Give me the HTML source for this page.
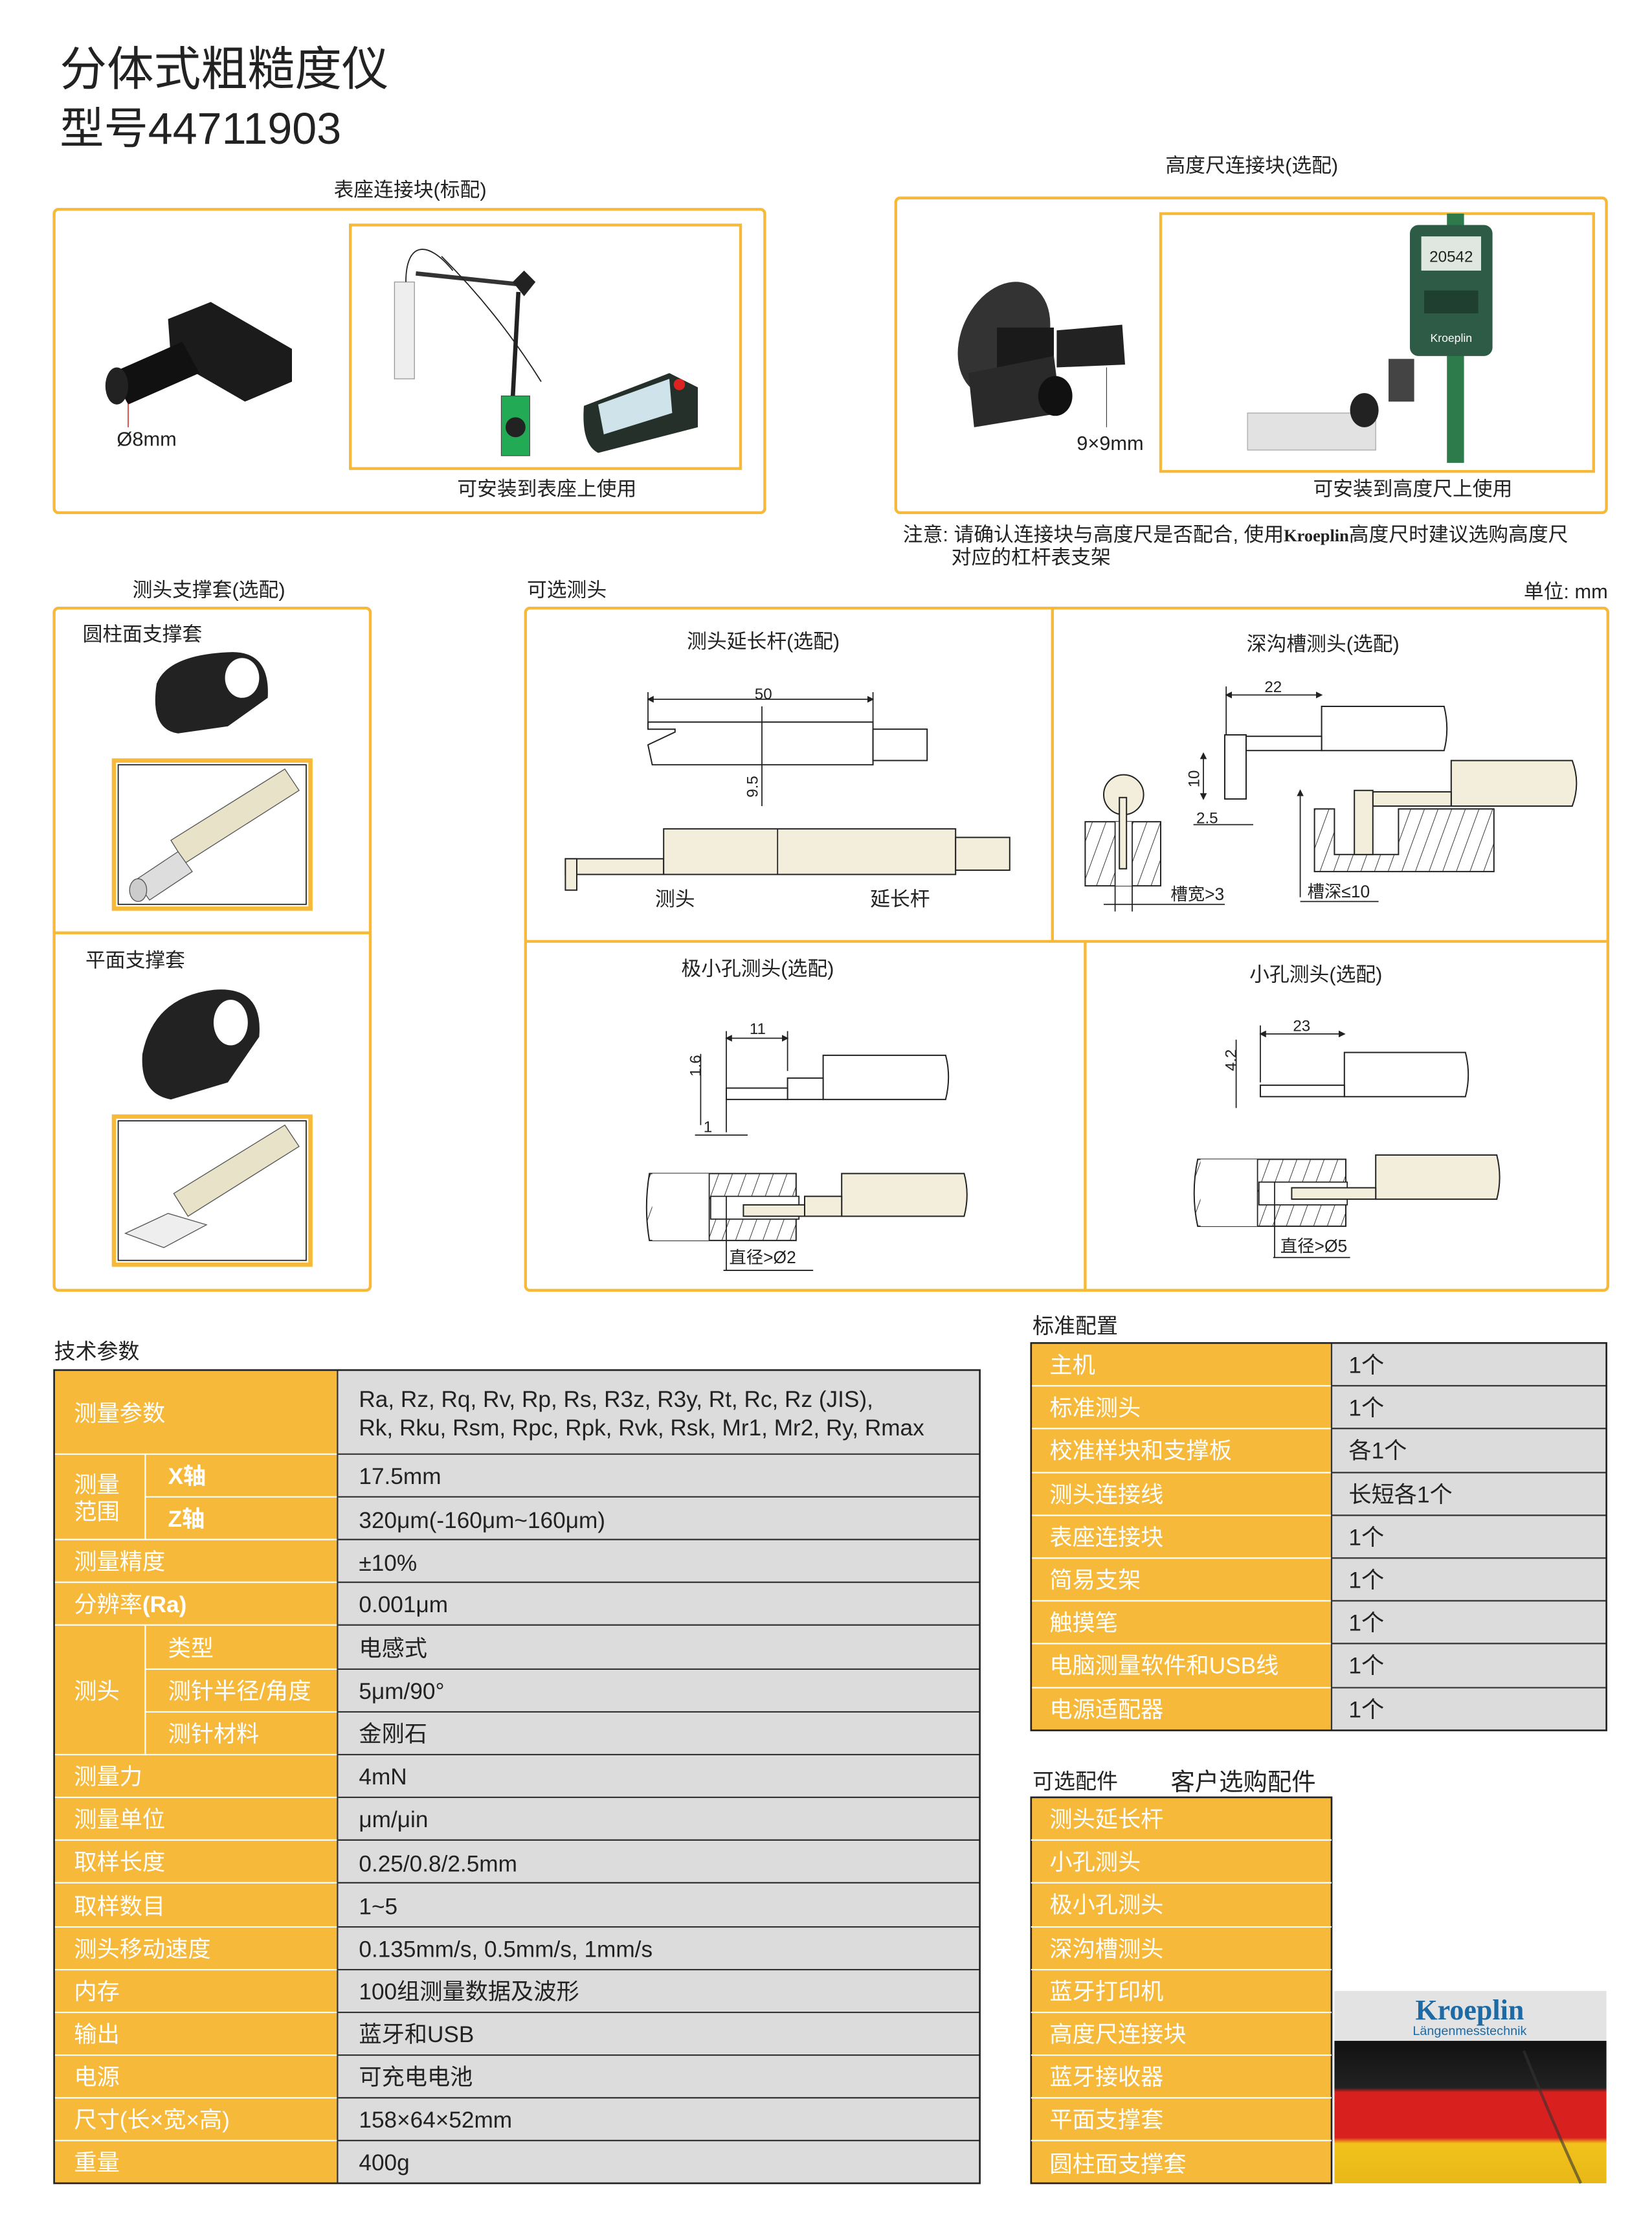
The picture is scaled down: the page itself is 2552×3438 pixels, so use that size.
<!DOCTYPE html>
<html><head><meta charset="utf-8"><style>
html,body{margin:0;padding:0;background:#fff;}
svg{display:block;}
text{font-family:"Liberation Sans","Noto Sans CJK SC",sans-serif;fill:#222;}
.w{fill:#fff;}
.o{fill:none;stroke:#f6b93a;stroke-width:2;}
.ln{stroke:#222;stroke-width:0.8;fill:none;}
.bg{fill:#f3eedb;stroke:#222;stroke-width:0.9;}
.h{stroke:#222;stroke-width:0.6;}
</style></head><body>
<svg width="2552" height="3438" viewBox="0 0 1160 1563" preserveAspectRatio="none" xmlns="http://www.w3.org/2000/svg">
<defs>
<pattern id="hat" width="9" height="9" patternUnits="userSpaceOnUse" patternTransform="rotate(20)">
<rect width="9" height="9" fill="#fff"/><line x1="0" y1="0" x2="0" y2="9" stroke="#222" stroke-width="0.8"/></pattern>
<marker id="ar" markerWidth="6" markerHeight="6" refX="5" refY="3" orient="auto"><path d="M0,0 L6,3 L0,6z" fill="#222"/></marker>
<marker id="al" markerWidth="6" markerHeight="6" refX="1" refY="3" orient="auto"><path d="M6,0 L0,3 L6,6z" fill="#222"/></marker>
<linearGradient id="flag" x1="0" y1="0" x2="0" y2="1"><stop offset="0" stop-color="#111"/><stop offset="0.33" stop-color="#222"/><stop offset="0.36" stop-color="#d8201f"/><stop offset="0.68" stop-color="#d8201f"/><stop offset="0.72" stop-color="#f1c21b"/><stop offset="1" stop-color="#e8b817"/></linearGradient>
</defs>

<!-- Title -->
<text x="42" y="60" font-size="33">分体式粗糙度仪</text>
<text x="42" y="101" font-size="31">型号44711903</text>

<!-- Box 1 -->
<text x="288" y="138" font-size="14" text-anchor="middle">表座连接块(标配)</text>
<rect x="38" y="147" width="499" height="213" rx="3" class="o"/>
<rect x="246" y="158" width="274" height="171" class="o" stroke-width="3"/>
<g>
<polygon points="118,224 148,212 205,245 205,268 172,282 120,252" fill="#1b1b1b"/>
<polygon points="78,262 128,240 140,262 90,284" fill="#111"/>
<ellipse cx="82" cy="271" rx="8" ry="13" fill="#222"/>
<line x1="90" y1="283" x2="90" y2="300" stroke="#c00" stroke-width="0.6"/>
<text x="82" y="313" font-size="14">Ø8mm</text>
</g>
<g>
<rect x="277" y="198" width="14" height="68" fill="#eee" stroke="#999" stroke-width="0.6"/>
<path d="M285,198 C285,170 300,168 318,190" class="ln" stroke-width="1.4"/>
<line x1="292" y1="192" x2="368" y2="200" stroke="#333" stroke-width="3"/>
<path d="M368,190 L376,198 L368,208 L360,198z" fill="#222"/>
<line x1="364" y1="205" x2="360" y2="280" stroke="#222" stroke-width="3"/>
<rect x="352" y="278" width="20" height="42" fill="#2a5" stroke="#444" stroke-width="0.5"/>
<circle cx="362" cy="300" r="7" fill="#222"/>
<path d="M310,180 Q350,220 380,268" class="ln"/>
<path d="M410,285 L470,262 L490,272 L490,300 L420,318 Q408,312 410,285z" fill="#26302a"/>
<path d="M420,284 L470,266 L472,290 L424,305z" fill="#cfe3ea"/>
<circle cx="477" cy="270" r="4" fill="#d22"/>
</g>
<text x="384" y="348" font-size="14" text-anchor="middle">可安装到表座上使用</text>

<!-- Box 2 -->
<text x="879" y="121" font-size="14" text-anchor="middle">高度尺连接块(选配)</text>
<rect x="629" y="139" width="499" height="221" rx="3" class="o"/>
<rect x="815" y="150" width="304" height="181" class="o" stroke-width="3"/>
<g>
<ellipse cx="705" cy="238" rx="30" ry="42" fill="#333" transform="rotate(25 705 238)"/>
<rect x="700" y="230" width="40" height="30" fill="#1a1a1a"/>
<polygon points="742,232 788,228 790,256 742,258" fill="#222"/>
<polygon points="680,262 740,250 745,290 684,300" fill="#2a2a2a"/>
<ellipse cx="741" cy="278" rx="12" ry="14" fill="#111"/>
<line x1="777" y1="258" x2="777" y2="300" stroke="#333" stroke-width="0.5"/>
<text x="756" y="316" font-size="14">9×9mm</text>
</g>
<g>
<rect x="1016" y="150" width="12" height="175" fill="#2d7a4a"/>
<rect x="990" y="158" width="58" height="92" rx="6" fill="#2e5b45"/>
<rect x="998" y="166" width="42" height="24" fill="#dfe7e0"/>
<text x="1019" y="184" font-size="11" text-anchor="middle">20542</text>
<rect x="1000" y="204" width="38" height="16" fill="#1f3f30"/>
<text x="1019" y="240" font-size="8" text-anchor="middle" class="w" style="fill:#fff">Kroeplin</text>
<rect x="876" y="290" width="90" height="26" fill="#e2e2e2" stroke="#aaa" stroke-width="0.6"/>
<ellipse cx="958" cy="288" rx="10" ry="12" fill="#222"/>
<rect x="975" y="252" width="18" height="30" fill="#444"/>
</g>
<text x="992" y="348" font-size="14" text-anchor="middle">可安装到高度尺上使用</text>
<text x="634" y="380" font-size="14">注意: 请确认连接块与高度尺是否配合, 使用<tspan font-family="Liberation Serif" font-weight="bold" font-size="12">Kroeplin</tspan>高度尺时建议选购高度尺</text>
<text x="668" y="396" font-size="14">对应的杠杆表支架</text>

<!-- Section labels -->
<text x="93" y="419" font-size="14">测头支撑套(选配)</text>
<text x="370" y="419" font-size="14">可选测头</text>
<text x="1129" y="420" font-size="14" text-anchor="end">单位: mm</text>

<!-- Left support box -->
<rect x="38" y="427" width="222" height="479" rx="3" class="o"/>
<line x1="38" y1="655" x2="260" y2="655" class="o"/>
<text x="58" y="450" font-size="14">圆柱面支撑套</text>
<g>
<path d="M110,480 Q118,460 160,458 Q190,456 188,490 L160,510 L125,515 Q105,512 110,480z" fill="#222"/>
<ellipse cx="170" cy="476" rx="12" ry="14" fill="#fff"/>
</g>
<rect x="80" y="534" width="138" height="104" fill="none" stroke="#f6b93a" stroke-width="3"/>
<rect x="83" y="537" width="132" height="98" fill="none" stroke="#222" stroke-width="0.8"/>
<polygon points="120,590 200,540 210,555 130,606" fill="#e8e2c8" stroke="#555" stroke-width="0.6"/>
<polygon points="95,618 125,598 135,612 105,632" fill="#ddd" stroke="#555" stroke-width="0.6"/>
<ellipse cx="97" cy="625" rx="6" ry="8" fill="#ccc" stroke="#555" stroke-width="0.6"/>
<text x="60" y="679" font-size="14">平面支撑套</text>
<g>
<path d="M100,740 Q108,700 150,695 Q185,692 182,728 L160,760 L120,772 Q98,768 100,740z" fill="#222"/>
<ellipse cx="162" cy="718" rx="12" ry="16" fill="#fff"/>
</g>
<rect x="80" y="784" width="138" height="104" fill="none" stroke="#f6b93a" stroke-width="3"/>
<rect x="83" y="787" width="132" height="98" fill="none" stroke="#222" stroke-width="0.8"/>
<polygon points="122,838 200,790 210,805 132,854" fill="#e8e2c8" stroke="#555" stroke-width="0.6"/>
<polygon points="88,866 118,852 145,860 115,876" fill="#eee" stroke="#555" stroke-width="0.6"/>

<!-- Right probes box -->
<rect x="369" y="427" width="760" height="479" rx="3" class="o"/>
<line x1="739" y1="427" x2="739" y2="661" class="o"/>
<line x1="369" y1="661" x2="1129" y2="661" class="o"/>
<line x1="762" y1="661" x2="762" y2="906" class="o"/>

<!-- extension rod -->
<text x="536" y="455" font-size="14" text-anchor="middle">测头延长杆(选配)</text>
<text x="536" y="491" font-size="11" text-anchor="middle">50</text>
<line x1="455" y1="491" x2="613" y2="491" class="ln" marker-start="url(#al)" marker-end="url(#ar)"/>
<line x1="455" y1="486" x2="455" y2="507" class="ln"/><line x1="613" y1="486" x2="613" y2="507" class="ln"/>
<path d="M455,507 L613,507 L613,537 L458,537 L455,523 L474,514 L474,512 L455,512z" fill="#fff" stroke="#222" stroke-width="0.9"/>
<rect x="613" y="512" width="38" height="22" fill="#fff" stroke="#222" stroke-width="0.9"/>
<line x1="535" y1="496" x2="535" y2="566" class="ln"/>
<text x="532" y="560" font-size="11" transform="rotate(-90 532 560)">9.5</text>
<rect x="397" y="603" width="69" height="11" class="bg"/>
<rect x="466" y="582" width="205" height="32" class="bg"/>
<line x1="546" y1="582" x2="546" y2="614" class="ln"/>
<rect x="671" y="588" width="38" height="23" class="bg"/>
<rect x="397" y="603" width="8" height="22" class="bg"/>
<text x="474" y="636" font-size="14" text-anchor="middle">测头</text>
<text x="632" y="636" font-size="14" text-anchor="middle">延长杆</text>

<!-- deep groove -->
<text x="929" y="457" font-size="14" text-anchor="middle">深沟槽测头(选配)</text>
<text x="894" y="486" font-size="11" text-anchor="middle">22</text>
<line x1="861" y1="488" x2="928" y2="488" class="ln" marker-start="url(#al)" marker-end="url(#ar)"/>
<line x1="861" y1="482" x2="861" y2="516" class="ln"/>
<path d="M928,496 L1014,496 Q1018,512 1014,527 L928,527z" fill="#fff" stroke="#222" stroke-width="0.9"/>
<rect x="875" y="517" width="53" height="10" fill="#fff" stroke="#222" stroke-width="0.9"/>
<rect x="860" y="516" width="15" height="45" fill="#fff" stroke="#222" stroke-width="0.9"/>
<line x1="845" y1="529" x2="845" y2="561" class="ln" marker-start="url(#al)" marker-end="url(#ar)"/>
<text x="842" y="553" font-size="11" transform="rotate(-90 842 553)">10</text>
<text x="840" y="578" font-size="11">2.5</text>
<line x1="838" y1="579" x2="880" y2="579" class="ln"/>
<circle cx="789" cy="558" r="14" class="bg"/>
<rect x="762" y="577" width="53" height="45" fill="url(#hat)" stroke="#222" stroke-width="0.9"/>
<rect x="783" y="577" width="12" height="45" fill="#fff" stroke="none"/>
<rect x="786" y="560" width="5" height="50" class="bg"/>
<line x1="783" y1="577" x2="783" y2="640" class="ln"/><line x1="795" y1="577" x2="795" y2="640" class="ln"/>
<text x="822" y="632" font-size="12">槽宽&gt;3</text>
<line x1="775" y1="635" x2="860" y2="635" class="ln"/>
<path d="M1019,534 L1104,534 Q1110,550 1104,566 L1019,566z" class="bg"/>
<rect x="964" y="556" width="55" height="10" class="bg"/>
<path d="M923,568 L937,568 L937,600 L982,600 L982,568 L1049,568 L1049,612 L923,612z" fill="url(#hat)" stroke="#222" stroke-width="0.9"/>
<rect x="951" y="555" width="13" height="45" class="bg"/>
<line x1="913" y1="555" x2="913" y2="630" class="ln" marker-start="url(#al)"/>
<text x="918" y="630" font-size="12">槽深≤10</text>
<line x1="913" y1="633" x2="968" y2="633" class="ln"/>

<!-- tiny hole -->
<text x="532" y="685" font-size="14" text-anchor="middle">极小孔测头(选配)</text>
<text x="532" y="726" font-size="11" text-anchor="middle">11</text>
<line x1="510" y1="729" x2="553" y2="729" class="ln" marker-start="url(#al)" marker-end="url(#ar)"/>
<line x1="510" y1="724" x2="510" y2="795" class="ln"/><line x1="553" y1="724" x2="553" y2="752" class="ln"/>
<path d="M578,741 L664,741 Q668,756 664,772 L578,772z" fill="#fff" stroke="#222" stroke-width="0.9"/>
<rect x="553" y="757" width="25" height="15" fill="#fff" stroke="#222" stroke-width="0.9"/>
<rect x="510" y="764" width="43" height="8" fill="#fff" stroke="#222" stroke-width="0.9"/>
<line x1="492" y1="740" x2="492" y2="790" class="ln"/>
<text x="492" y="756" font-size="11" transform="rotate(-90 492 756)">1.6</text>
<text x="494" y="795" font-size="11">1</text>
<line x1="488" y1="797" x2="525" y2="797" class="ln"/>
<path d="M456,824 L559,824 L559,871 L456,871 Q452,848 456,824z" fill="url(#hat)" stroke="#222" stroke-width="0.9"/>
<rect x="458" y="824" width="40" height="47" fill="#fff" stroke="none"/>
<line x1="498" y1="824" x2="498" y2="871" class="ln"/>
<rect x="499" y="840" width="62" height="16" fill="#fff" stroke="#222" stroke-width="0.8"/>
<path d="M591,824 L677,824 Q681,839 677,854 L591,854z" class="bg"/>
<rect x="565" y="840" width="26" height="14" class="bg"/>
<rect x="522" y="846" width="43" height="8" class="bg"/>
<line x1="510" y1="840" x2="510" y2="892" class="ln"/>
<text x="512" y="887" font-size="12">直径&gt;Ø2</text>
<line x1="508" y1="892" x2="571" y2="892" class="ln"/>

<!-- small hole -->
<text x="924" y="689" font-size="14" text-anchor="middle">小孔测头(选配)</text>
<text x="914" y="724" font-size="11" text-anchor="middle">23</text>
<line x1="885" y1="726" x2="944" y2="726" class="ln" marker-start="url(#al)" marker-end="url(#ar)"/>
<line x1="885" y1="720" x2="885" y2="760" class="ln"/>
<path d="M944,739 L1029,739 Q1033,755 1029,770 L944,770z" fill="#fff" stroke="#222" stroke-width="0.9"/>
<rect x="885" y="762" width="59" height="8" fill="#fff" stroke="#222" stroke-width="0.9"/>
<line x1="868" y1="730" x2="868" y2="778" class="ln"/>
<text x="868" y="752" font-size="11" transform="rotate(-90 868 752)">4.2</text>
<path d="M841,814 L945,814 L945,861 L841,861 Q836,838 841,814z" fill="url(#hat)" stroke="#222" stroke-width="0.9"/>
<rect x="843" y="814" width="40" height="47" fill="#fff" stroke="none"/>
<line x1="883" y1="814" x2="883" y2="861" class="ln"/>
<rect x="884" y="830" width="62" height="16" fill="#fff" stroke="#222" stroke-width="0.8"/>
<path d="M966,811 L1051,811 Q1055,827 1051,842 L966,842z" class="bg"/>
<rect x="907" y="834" width="59" height="8" class="bg"/>
<line x1="895" y1="830" x2="895" y2="883" class="ln"/>
<text x="899" y="879" font-size="12">直径&gt;Ø5</text>
<line x1="894" y1="883" x2="948" y2="883" class="ln"/>

<!-- Tech spec table -->
<text x="38" y="954" font-size="15">技术参数</text>
<rect x="38" y="962" width="199" height="571" fill="#f6b93a"/>
<rect x="237" y="962" width="451" height="571" fill="#dcdcdc"/>
<g stroke="#fff" stroke-width="1">
<line x1="38" y1="1021" x2="237" y2="1021"/><line x1="102" y1="1051" x2="237" y2="1051"/>
<line x1="38" y1="1081" x2="237" y2="1081"/><line x1="38" y1="1111" x2="237" y2="1111"/>
<line x1="38" y1="1141" x2="237" y2="1141"/><line x1="102" y1="1172" x2="237" y2="1172"/>
<line x1="102" y1="1202" x2="237" y2="1202"/><line x1="38" y1="1232" x2="237" y2="1232"/>
<line x1="38" y1="1262" x2="237" y2="1262"/><line x1="38" y1="1292" x2="237" y2="1292"/>
<line x1="38" y1="1322" x2="237" y2="1322"/><line x1="38" y1="1353" x2="237" y2="1353"/>
<line x1="38" y1="1383" x2="237" y2="1383"/><line x1="38" y1="1413" x2="237" y2="1413"/>
<line x1="38" y1="1443" x2="237" y2="1443"/><line x1="38" y1="1473" x2="237" y2="1473"/>
<line x1="38" y1="1503" x2="237" y2="1503"/>
<line x1="102" y1="1021" x2="102" y2="1081"/><line x1="102" y1="1141" x2="102" y2="1232"/>
</g>
<g stroke="#333" stroke-width="1">
<line x1="237" y1="1021" x2="688" y2="1021"/><line x1="237" y1="1051" x2="688" y2="1051"/>
<line x1="237" y1="1081" x2="688" y2="1081"/><line x1="237" y1="1111" x2="688" y2="1111"/>
<line x1="237" y1="1141" x2="688" y2="1141"/><line x1="237" y1="1172" x2="688" y2="1172"/>
<line x1="237" y1="1202" x2="688" y2="1202"/><line x1="237" y1="1232" x2="688" y2="1232"/>
<line x1="237" y1="1262" x2="688" y2="1262"/><line x1="237" y1="1292" x2="688" y2="1292"/>
<line x1="237" y1="1322" x2="688" y2="1322"/><line x1="237" y1="1353" x2="688" y2="1353"/>
<line x1="237" y1="1383" x2="688" y2="1383"/><line x1="237" y1="1413" x2="688" y2="1413"/>
<line x1="237" y1="1443" x2="688" y2="1443"/><line x1="237" y1="1473" x2="688" y2="1473"/>
<line x1="237" y1="1503" x2="688" y2="1503"/>
<line x1="237" y1="962" x2="237" y2="1533"/>
</g>
<rect x="38" y="962" width="650" height="571" fill="none" stroke="#222" stroke-width="1.2"/>
<g font-size="16" style="fill:#fff">
<text x="52" y="998" class="w">测量参数</text>
<text x="52" y="1048" class="w">测量</text><text x="52" y="1067" class="w">范围</text>
<text x="118" y="1042" class="w" font-weight="bold">X轴</text>
<text x="118" y="1072" class="w" font-weight="bold">Z轴</text>
<text x="52" y="1102" class="w">测量精度</text>
<text x="52" y="1132" class="w">分辨率<tspan font-weight="bold">(Ra)</tspan></text>
<text x="52" y="1193" class="w">测头</text>
<text x="118" y="1163" class="w">类型</text>
<text x="118" y="1193" class="w">测针半径/角度</text>
<text x="118" y="1223" class="w">测针材料</text>
<text x="52" y="1253" class="w">测量力</text>
<text x="52" y="1283" class="w">测量单位</text>
<text x="52" y="1313" class="w">取样长度</text>
<text x="52" y="1344" class="w">取样数目</text>
<text x="52" y="1374" class="w">测头移动速度</text>
<text x="52" y="1404" class="w">内存</text>
<text x="52" y="1434" class="w">输出</text>
<text x="52" y="1464" class="w">电源</text>
<text x="52" y="1494" class="w">尺寸(长×宽×高)</text>
<text x="52" y="1524" class="w">重量</text>
</g>
<g font-size="16">
<text x="252" y="988">Ra, Rz, Rq, Rv, Rp, Rs, R3z, R3y, Rt, Rc, Rz (JIS),</text>
<text x="252" y="1008">Rk, Rku, Rsm, Rpc, Rpk, Rvk, Rsk, Mr1, Mr2, Ry, Rmax</text>
<text x="252" y="1042">17.5mm</text>
<text x="252" y="1073">320μm(-160μm~160μm)</text>
<text x="252" y="1103">±10%</text>
<text x="252" y="1132">0.001μm</text>
<text x="252" y="1163">电感式</text>
<text x="252" y="1193">5μm/90°</text>
<text x="252" y="1223">金刚石</text>
<text x="252" y="1253">4mN</text>
<text x="252" y="1283">μm/μin</text>
<text x="252" y="1314">0.25/0.8/2.5mm</text>
<text x="252" y="1344">1~5</text>
<text x="252" y="1374">0.135mm/s, 0.5mm/s, 1mm/s</text>
<text x="252" y="1404">100组测量数据及波形</text>
<text x="252" y="1434">蓝牙和USB</text>
<text x="252" y="1464">可充电电池</text>
<text x="252" y="1494">158×64×52mm</text>
<text x="252" y="1524">400g</text>
</g>

<!-- Standard config -->
<text x="725" y="936" font-size="15">标准配置</text>
<rect x="724" y="943" width="211" height="272" fill="#f6b93a"/>
<rect x="935" y="943" width="193" height="272" fill="#dcdcdc"/>
<g stroke="#fff" stroke-width="1">
<line x1="724" y1="973" x2="935" y2="973"/><line x1="724" y1="1003" x2="935" y2="1003"/><line x1="724" y1="1034" x2="935" y2="1034"/><line x1="724" y1="1064" x2="935" y2="1064"/><line x1="724" y1="1094" x2="935" y2="1094"/><line x1="724" y1="1124" x2="935" y2="1124"/><line x1="724" y1="1154" x2="935" y2="1154"/><line x1="724" y1="1185" x2="935" y2="1185"/>
</g>
<g stroke="#333" stroke-width="1">
<line x1="935" y1="973" x2="1128" y2="973"/><line x1="935" y1="1003" x2="1128" y2="1003"/><line x1="935" y1="1034" x2="1128" y2="1034"/><line x1="935" y1="1064" x2="1128" y2="1064"/><line x1="935" y1="1094" x2="1128" y2="1094"/><line x1="935" y1="1124" x2="1128" y2="1124"/><line x1="935" y1="1154" x2="1128" y2="1154"/><line x1="935" y1="1185" x2="1128" y2="1185"/>
<line x1="935" y1="943" x2="935" y2="1215"/>
</g>
<rect x="724" y="943" width="404" height="272" fill="none" stroke="#222" stroke-width="1.2"/>
<g font-size="16">
<text x="737" y="964" class="w">主机</text>
<text x="737" y="994" class="w">标准测头</text>
<text x="737" y="1024" class="w">校准样块和支撑板</text>
<text x="737" y="1055" class="w">测头连接线</text>
<text x="737" y="1085" class="w">表座连接块</text>
<text x="737" y="1115" class="w">简易支架</text>
<text x="737" y="1145" class="w">触摸笔</text>
<text x="737" y="1175" class="w">电脑测量软件和USB线</text>
<text x="737" y="1206" class="w">电源适配器</text>
<text x="947" y="964">1个</text><text x="947" y="994">1个</text><text x="947" y="1024">各1个</text>
<text x="947" y="1055">长短各1个</text><text x="947" y="1085">1个</text><text x="947" y="1115">1个</text>
<text x="947" y="1145">1个</text><text x="947" y="1175">1个</text><text x="947" y="1206">1个</text>
</g>

<!-- Optional accessories -->
<text x="725" y="1256" font-size="15">可选配件</text>
<text x="822" y="1257" font-size="17">客户选购配件</text>
<rect x="724" y="1262" width="211" height="271" fill="#f6b93a" stroke="#222" stroke-width="1.2"/>
<g stroke="#fff" stroke-width="1">
<line x1="724" y1="1292" x2="935" y2="1292"/><line x1="724" y1="1322" x2="935" y2="1322"/><line x1="724" y1="1353" x2="935" y2="1353"/><line x1="724" y1="1383" x2="935" y2="1383"/><line x1="724" y1="1413" x2="935" y2="1413"/><line x1="724" y1="1443" x2="935" y2="1443"/><line x1="724" y1="1473" x2="935" y2="1473"/><line x1="724" y1="1503" x2="935" y2="1503"/>
</g>
<g font-size="16">
<text x="737" y="1283" class="w">测头延长杆</text>
<text x="737" y="1313" class="w">小孔测头</text>
<text x="737" y="1343" class="w">极小孔测头</text>
<text x="737" y="1374" class="w">深沟槽测头</text>
<text x="737" y="1404" class="w">蓝牙打印机</text>
<text x="737" y="1434" class="w">高度尺连接块</text>
<text x="737" y="1464" class="w">蓝牙接收器</text>
<text x="737" y="1494" class="w">平面支撑套</text>
<text x="737" y="1525" class="w">圆柱面支撑套</text>
</g>

<!-- Kroeplin flag -->
<rect x="937" y="1398" width="191" height="35" fill="#e3e3e3"/>
<rect x="937" y="1433" width="191" height="100" fill="url(#flag)"/>
<path d="M1070,1440 Q1090,1490 1110,1533" stroke="#333" stroke-width="2" fill="none" opacity="0.6"/>
<text x="1032" y="1418" font-size="20" text-anchor="middle" font-family="Liberation Serif" font-weight="bold" style="fill:#1d6aa5;font-family:'Liberation Serif',serif">Kroeplin</text>
<text x="1032" y="1429" font-size="9" text-anchor="middle" style="fill:#1d6aa5">Längenmesstechnik</text>
</svg>
</body></html>
